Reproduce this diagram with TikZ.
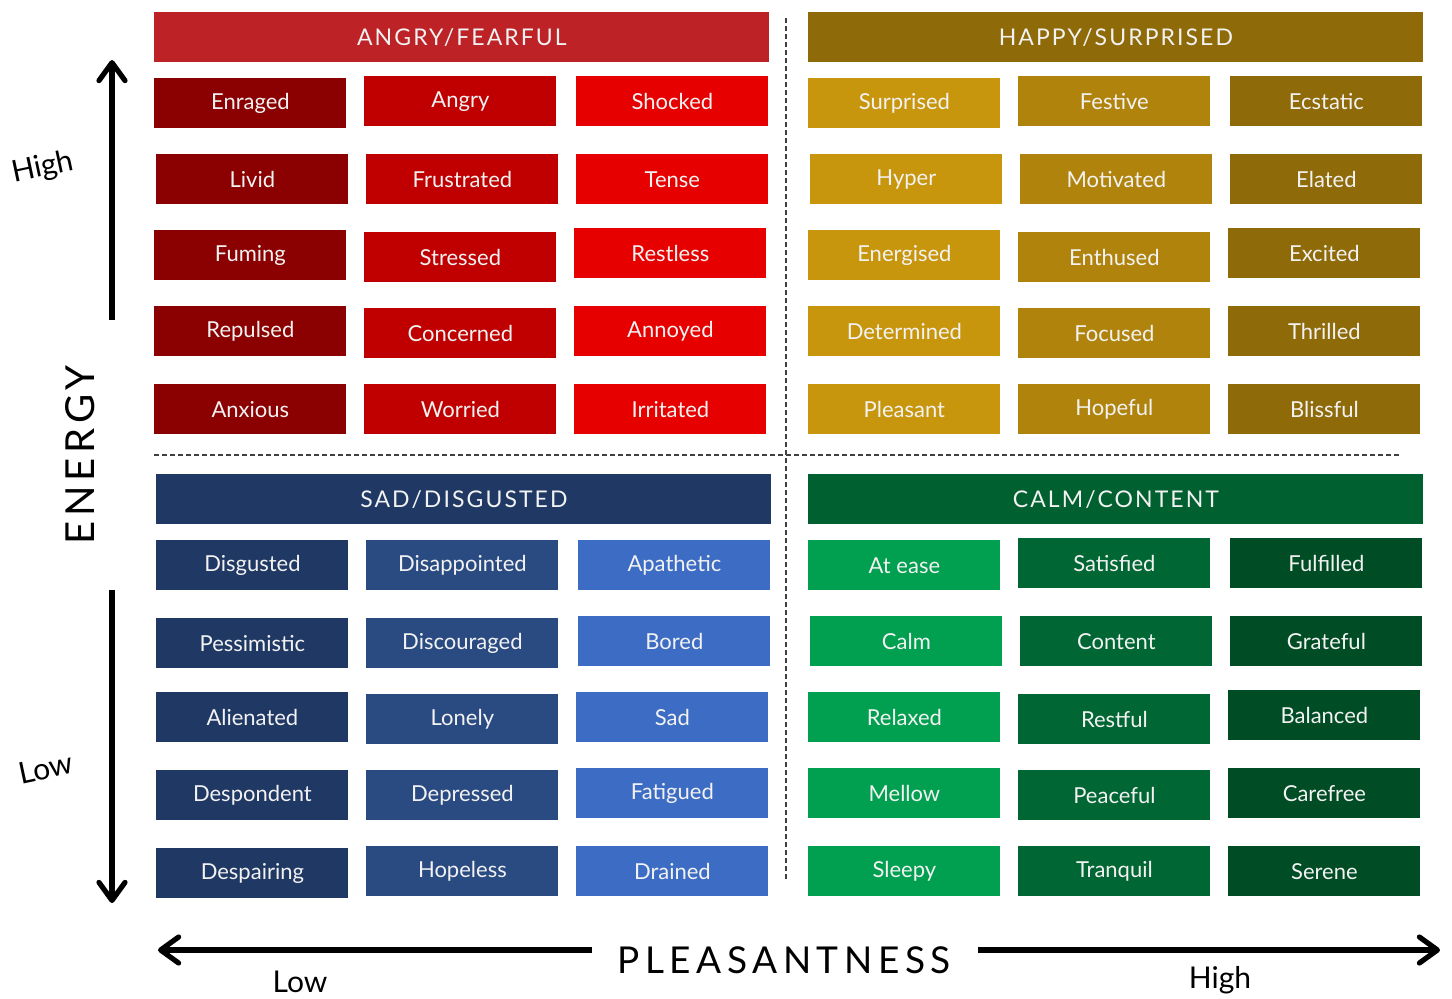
\documentclass[tikz,border=0pt]{standalone}
\usepackage{fontspec}
\setmainfont{Lato}
\newfontfamily\hdfont[LetterSpace=9]{Lato}
\newfontfamily\bigfont[LetterSpace=15]{Lato}
\newfontfamily\energyfont[LetterSpace=12]{Lato}
\usetikzlibrary{arrows.meta}
\definecolor{ahd}{HTML}{BC2226}
\definecolor{a1}{HTML}{8B0000}
\definecolor{a2}{HTML}{C00000}
\definecolor{a3}{HTML}{E60000}
\definecolor{hhd}{HTML}{8E6A08}
\definecolor{h1}{HTML}{C8960C}
\definecolor{h2}{HTML}{B0840C}
\definecolor{h3}{HTML}{8E6A08}
\definecolor{shd}{HTML}{203864}
\definecolor{s1}{HTML}{203864}
\definecolor{s2}{HTML}{2A4A82}
\definecolor{s3}{HTML}{3D6CC4}
\definecolor{chd}{HTML}{00602F}
\definecolor{c1}{HTML}{00A050}
\definecolor{c2}{HTML}{006633}
\definecolor{c3}{HTML}{004C25}
\definecolor{txt}{HTML}{F2F2F2}
\tikzset{
  box/.style={fill=#1, text=txt, draw=none, anchor=north west, inner sep=0pt,
    minimum width=96pt, minimum height=25pt, font=\fontsize{11}{12}\selectfont},
  hdbox/.style={fill=#1, text=txt, draw=none, anchor=north west, inner sep=0pt,
    minimum width=307.5pt, minimum height=25pt, font=\hdfont\fontsize{11.5}{12}\selectfont},
  divider/.style={draw=black!75, line width=0.7pt, dash pattern=on 2.5pt off 1.5pt},
  axis/.style={line width=2.6pt, -{Straight Barb[length=9pt,width=13pt,line width=2.6pt,round]}},
  sidelabel/.style={font=\fontsize{15}{16}\selectfont, text=black, inner sep=0pt}
}
\begin{document}
\begin{tikzpicture}[x=0.5pt,y=-0.5pt]
\useasboundingbox (0,0) rectangle (1452,998);
% dividers
\coordinate (vtop) at (786,18);
\coordinate (vbot) at (786,880);
\coordinate (hl) at (154,455);
\coordinate (hr) at (1400,455);
\draw[divider] (vtop) -- (vbot);
\draw[divider] (hl) -- (hr);
% headers
\node[hdbox=ahd] (hangry) at (154,12) {ANGRY/FEARFUL};
\node[hdbox=hhd] (hhappy) at (808,12) {HAPPY/SURPRISED};
\node[hdbox=shd] (hsad) at (156,474) {SAD/DISGUSTED};
\node[hdbox=chd] (hcalm) at (808,474) {CALM/CONTENT};
% angry
\node[box=a1] (enraged) at (154,78) {Enraged};
\node[box=a1] (livid) at (156,154) {Livid};
\node[box=a1] (fuming) at (154,230) {Fuming};
\node[box=a1] (repulsed) at (154,306) {Repulsed};
\node[box=a1] (anxious) at (154,384) {Anxious};
\node[box=a2] (angry) at (364,76) {Angry};
\node[box=a2] (frustrated) at (366,154) {Frustrated};
\node[box=a2] (stressed) at (364,232) {Stressed};
\node[box=a2] (concerned) at (364,308) {Concerned};
\node[box=a2] (worried) at (364,384) {Worried};
\node[box=a3] (shocked) at (576,76) {Shocked};
\node[box=a3] (tense) at (576,154) {Tense};
\node[box=a3] (restless) at (574,228) {Restless};
\node[box=a3] (annoyed) at (574,306) {Annoyed};
\node[box=a3] (irritated) at (574,384) {Irritated};
% happy
\node[box=h1] (surprised) at (808,78) {Surprised};
\node[box=h1] (hyper) at (810,154) {Hyper};
\node[box=h1] (energised) at (808,230) {Energised};
\node[box=h1] (determined) at (808,306) {Determined};
\node[box=h1] (pleasant) at (808,384) {Pleasant};
\node[box=h2] (festive) at (1018,76) {Festive};
\node[box=h2] (motivated) at (1020,154) {Motivated};
\node[box=h2] (enthused) at (1018,232) {Enthused};
\node[box=h2] (focused) at (1018,308) {Focused};
\node[box=h2] (hopeful) at (1018,384) {Hopeful};
\node[box=h3] (ecstatic) at (1230,76) {Ecstatic};
\node[box=h3] (elated) at (1230,154) {Elated};
\node[box=h3] (excited) at (1228,228) {Excited};
\node[box=h3] (thrilled) at (1228,306) {Thrilled};
\node[box=h3] (blissful) at (1228,384) {Blissful};
% sad
\node[box=s1] (disgusted) at (156,540) {Disgusted};
\node[box=s1] (pessimistic) at (156,618) {Pessimistic};
\node[box=s1] (alienated) at (156,692) {Alienated};
\node[box=s1] (despondent) at (156,770) {Despondent};
\node[box=s1] (despairing) at (156,848) {Despairing};
\node[box=s2] (disappointed) at (366,540) {Disappointed};
\node[box=s2] (discouraged) at (366,618) {Discouraged};
\node[box=s2] (lonely) at (366,694) {Lonely};
\node[box=s2] (depressed) at (366,770) {Depressed};
\node[box=s2] (hopeless) at (366,846) {Hopeless};
\node[box=s3] (apathetic) at (578,540) {Apathetic};
\node[box=s3] (bored) at (578,616) {Bored};
\node[box=s3] (sad) at (576,692) {Sad};
\node[box=s3] (fatigued) at (576,768) {Fatigued};
\node[box=s3] (drained) at (576,846) {Drained};
% calm
\node[box=c1] (atease) at (808,540) {At ease};
\node[box=c1] (calm) at (810,616) {Calm};
\node[box=c1] (relaxed) at (808,692) {Relaxed};
\node[box=c1] (mellow) at (808,768) {Mellow};
\node[box=c1] (sleepy) at (808,846) {Sleepy};
\node[box=c2] (satisfied) at (1018,538) {Satisfied};
\node[box=c2] (content) at (1020,616) {Content};
\node[box=c2] (restful) at (1018,694) {Restful};
\node[box=c2] (peaceful) at (1018,770) {Peaceful};
\node[box=c2] (tranquil) at (1018,846) {Tranquil};
\node[box=c3] (fulfilled) at (1230,538) {Fulfilled};
\node[box=c3] (grateful) at (1230,616) {Grateful};
\node[box=c3] (balanced) at (1228,690) {Balanced};
\node[box=c3] (carefree) at (1228,768) {Carefree};
\node[box=c3] (serene) at (1228,846) {Serene};
% energy axis
\coordinate (eupS) at (112,320);
\coordinate (eupE) at (112,60);
\coordinate (ednS) at (112,590);
\coordinate (ednE) at (112,903);
\draw[axis] (eupS) -- (eupE);
\draw[axis] (ednS) -- (ednE);
\node[font=\energyfont\fontsize{20}{20}\selectfont, rotate=90] (energy) at (80,455) {ENERGY};
\node[sidelabel, rotate=12] (ehigh) at (43,168) {High};
\node[sidelabel, rotate=12] (elow) at (46,768) {Low};
% pleasantness axis
\coordinate (plS) at (592,950);
\coordinate (plE) at (158,950);
\coordinate (prS) at (978,950);
\coordinate (prE) at (1440,950);
\draw[axis] (plS) -- (plE);
\draw[axis] (prS) -- (prE);
\node[font=\bigfont\fontsize{18.5}{18.5}\selectfont] (pleas) at (784,960) {PLEASANTNESS};
\node[sidelabel] (plow) at (300,982) {Low};
\node[sidelabel] (phigh) at (1220,980) {High};
\end{tikzpicture}
\end{document}
